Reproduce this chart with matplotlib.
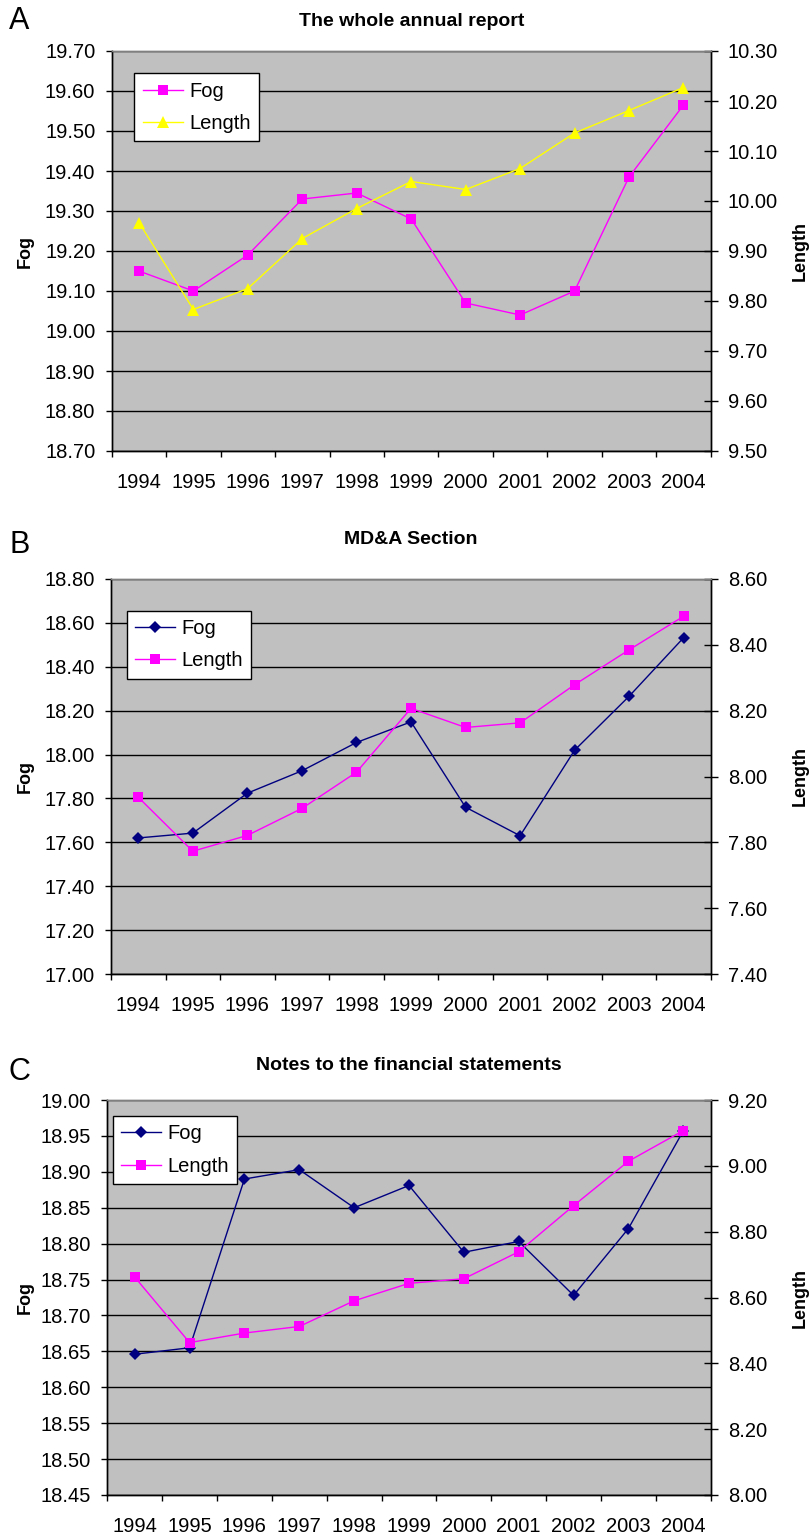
import matplotlib
matplotlib.use("Agg")
import matplotlib.pyplot as plt
import numpy as np
from matplotlib.ticker import FixedLocator, FormatStrFormatter

plt.rcParams['font.family'] = ['Liberation Sans', 'DejaVu Sans']

years = ['1994', '1995', '1996', '1997', '1998', '1999', '2000', '2001', '2002', '2003', '2004']

fog_a = [19.15, 19.10, 19.19, 19.33, 19.345, 19.28, 19.07, 19.04, 19.10, 19.385, 19.565]
len_a = [9.957, 9.783, 9.825, 9.925, 9.985, 10.039, 10.023, 10.065, 10.136, 10.181, 10.227]

fog_b = [17.62, 17.642, 17.824, 17.926, 18.055, 18.149, 17.76, 17.63, 18.02, 18.266, 18.533]
len_b = [7.937, 7.773, 7.821, 7.903, 8.013, 8.207, 8.149, 8.163, 8.279, 8.385, 8.487]

fog_c = [18.646, 18.655, 18.89, 18.903, 18.85, 18.881, 18.788, 18.803, 18.728, 18.821, 18.957]
len_c = [8.662, 8.463, 8.492, 8.512, 8.59, 8.643, 8.657, 8.739, 8.879, 9.014, 9.107]

titles = ['The whole annual report', 'MD&A Section', 'Notes to the financial statements']
letters = ['A', 'B', 'C']

W, H = 809, 1536
fig = plt.figure(figsize=(W / 100, H / 100), dpi=100)


def px_axes(l, t, r, b):
    return fig.add_axes([l / W, 1 - b / H, (r - l) / W, (b - t) / H])


panels = [
    dict(box=(111.7, 51, 710.7, 451), fog=fog_a, length=len_a,
         lim1=(18.70, 19.70, 0.10), lim2=(9.50, 10.30, 0.10),
         fog_style=dict(color='#FF00FF', marker='s', ms=6.5),
         len_style=dict(color='#FFFF00', marker='^', ms=8.5),
         leg=(134.3, 73.3), title_y=22, letter_y=21),
    dict(box=(111, 579, 711, 974), fog=fog_b, length=len_b,
         lim1=(17.00, 18.80, 0.20), lim2=(7.40, 8.60, 0.20),
         fog_style=dict(color='#000080', marker='D', ms=6.5),
         len_style=dict(color='#FF00FF', marker='s', ms=6.5),
         leg=(126.7, 610.7), title_y=540, letter_y=545),
    dict(box=(107.3, 1100, 710.7, 1495), fog=fog_c, length=len_c,
         lim1=(18.45, 19.00, 0.05), lim2=(8.00, 9.20, 0.20),
         fog_style=dict(color='#000080', marker='D', ms=6.5),
         len_style=dict(color='#FF00FF', marker='s', ms=6.5),
         leg=(112.7, 1116), title_y=1066, letter_y=1072),
]

FS = 14.5
x = np.arange(len(years))

for i, p in enumerate(panels):
    l, t, r, b = p['box']
    ax = px_axes(l, t, r, b)
    ax.set_facecolor('#C0C0C0')
    ax2 = ax.twinx()

    lo, hi, st = p['lim1']
    ticks1 = np.round(np.arange(lo, hi + st / 2, st), 2)
    lo2, hi2, st2 = p['lim2']
    ticks2 = np.round(np.arange(lo2, hi2 + st2 / 2, st2), 2)

    ax.set_xlim(-0.5, len(years) - 0.5)
    ax.set_ylim(lo, hi)
    ax2.set_ylim(lo2, hi2)

    ax.yaxis.set_major_locator(FixedLocator(ticks1))
    ax.yaxis.set_major_formatter(FormatStrFormatter('%.2f'))
    ax2.yaxis.set_major_locator(FixedLocator(ticks2))
    ax2.yaxis.set_major_formatter(FormatStrFormatter('%.2f'))

    ax.set_xticks(np.arange(-0.5, len(years), 1.0))
    ax.set_xticklabels([])
    ax.set_xticks(x, minor=True)
    ax.set_xticklabels(years, minor=True)
    ax.tick_params(axis='x', which='major', direction='out', length=4.3, width=1, color='black')
    ax.tick_params(axis='x', which='minor', length=0, pad=16, labelsize=FS)
    ax.tick_params(axis='y', direction='out', length=4.3, width=1, pad=7.5, labelsize=FS)
    ax2.tick_params(axis='y', direction='inout', length=9.5, width=1, pad=7.5, labelsize=FS)

    ax.grid(axis='y', color='black', linewidth=1.0)
    ax.set_axisbelow(True)

    for a in (ax, ax2):
        a.spines['left'].set_color('black')
        a.spines['right'].set_color('black')
        a.spines['bottom'].set_color('black')
        a.spines['top'].set_color('#808080')
        for s in a.spines.values():
            s.set_linewidth(1.0)

    h1, = ax.plot(x, p['fog'], linewidth=1.0, label='Fog', markeredgewidth=0, **p['fog_style'])
    h2, = ax2.plot(x, p['length'], linewidth=1.0, label='Length', markeredgewidth=0, **p['len_style'])

    lx, ly = p['leg']
    leg = ax2.legend([h1, h2], ['Fog', 'Length'],
                     loc='upper left',
                     bbox_to_anchor=((lx - l) / (r - l), (b - ly) / (b - t)),
                     borderaxespad=0, fontsize=FS, frameon=True, fancybox=False,
                     framealpha=1, edgecolor='black', handlelength=2.0,
                     handletextpad=0.3, labelspacing=0.65, borderpad=0.42)
    leg.get_frame().set_linewidth(1.0)

    fig.text(((l + r) / 2) / W, 1 - p['title_y'] / H, titles[i], ha='center', va='center',
             fontsize=14, fontweight='bold')
    fig.text(9 / W, 1 - p['letter_y'] / H, letters[i], ha='left', va='center', fontsize=22)
    ymid = (t + b) / 2
    fig.text(25 / W, 1 - ymid / H, 'Fog', rotation=90, ha='center', va='center',
             fontsize=13, fontweight='bold')
    fig.text(800 / W, 1 - ymid / H, 'Length', rotation=90, ha='center', va='center',
             fontsize=13, fontweight='bold')

fig.savefig('out.png', dpi=100)
